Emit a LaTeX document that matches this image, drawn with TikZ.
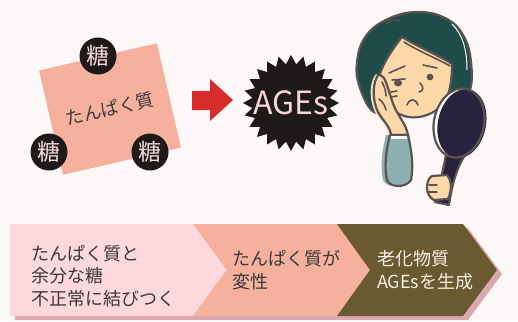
\documentclass[tikz,border=0pt]{standalone}
\usepackage{fontspec}
\setmainfont{Noto Sans CJK JP}
\definecolor{bgc}{HTML}{FCF8F8}
\definecolor{salmon}{HTML}{F5B19E}
\definecolor{sugarc}{HTML}{1E1A1A}
\definecolor{sugartext}{HTML}{F8D9D9}
\definecolor{redc}{HTML}{D82B2B}
\definecolor{agestext}{HTML}{F9D5D5}
\definecolor{pinkbox}{HTML}{FDD8DC}
\definecolor{olive}{HTML}{6A5A31}
\definecolor{shadowc}{HTML}{DAA8AE}
\definecolor{darktext}{HTML}{3A3A3A}
\definecolor{lighttext}{HTML}{F6F0E2}
\definecolor{hairc}{HTML}{1F4B49}
\definecolor{skin}{HTML}{FDD9AA}
\definecolor{skinlight}{HTML}{FCE2C4}
\definecolor{outl}{HTML}{5A5351}
\definecolor{sleevec}{HTML}{8EB0B1}
\definecolor{mirrorc}{HTML}{27233F}
\begin{document}
\begin{tikzpicture}[x=1pt,y=-1pt,
  sugar/.style={circle, fill=sugarc, minimum size=37pt, inner sep=0pt,
    text=sugartext, font=\fontsize{23}{23}\selectfont},
  boxtext/.style={anchor=west, align=left, inner sep=0pt,
    font=\fontsize{18}{22.5}\selectfont},
  ink/.style={draw=outl, line width=2.2pt, line join=round, line cap=round},
  fine/.style={draw=outl, line width=1.6pt, line cap=round}]
\useasboundingbox (0,0) rectangle (518,321);
\fill[bgc] (0,0) rectangle (518,321);

% protein sheet with three sugars
\node[fill=salmon, minimum width=121pt, minimum height=107pt, inner sep=0pt,
  rotate=13, text=darktext, font=\fontsize{18}{18}\selectfont] (protein)
  at (110,109) {\raisebox{0pt}{たんぱく質}};
\node[sugar] (s1) at (98,56) {糖};
\node[sugar] (s2) at (49,152) {糖};
\node[sugar] (s3) at (150,152) {糖};

% red arrow
\fill[redc] (192,91) -- (210,91) -- (210,79) -- (233,100) -- (210,121)
  -- (210,110) -- (192,110) -- cycle;

% AGEs burst
\begin{scope}[shift={(291,103)}]
  \fill[sugarc] (90:48) \foreach \i in {1,...,47}{
    -- ({90+\i*7.5}:{ifthenelse(mod(\i,2)==0,48,39)}) } -- cycle;
\end{scope}
\node[text=agestext, font=\fontsize{32}{32}\selectfont, inner sep=0pt] (ages)
  at (291,103) {AGEs};

% process strip
\fill[shadowc, shift={(5,4)}] (10,224) -- (463,224) -- (497,270) -- (463,316)
  -- (10,316) -- cycle;
\fill[pinkbox] (10,224) -- (193,224) -- (227,270) -- (193,316) -- (10,316) -- cycle;
\fill[salmon] (193,224) -- (337,224) -- (370,270) -- (337,316) -- (193,316)
  -- (227,270) -- cycle;
\fill[olive] (337,224) -- (463,224) -- (497,270) -- (463,316) -- (337,316)
  -- (370,270) -- cycle;
\node[boxtext, text=darktext] (step1) at (31,276)
  {たんぱく質と\\余分な糖\\不正常に結びつく};
\node[boxtext, text=darktext] (step2) at (232,270) {たんぱく質が\\変性};
\node[boxtext, text=lighttext] (step3) at (377,270) {老化物質\\AGEsを生成};

% worried woman: hair
\draw[ink, fill=hairc] plot[smooth cycle, tension=0.7] coordinates {
  (374,112) (360,88) (357,62) (366,36) (388,19) (417,12) (445,18) (463,35)
  (471,62) (469,92) (452,100) (420,100) (390,105)};
\draw[white, line width=1pt] (452,24) .. controls (462,34) and (467,48) .. (467,70);
\draw[fine] (386,24) .. controls (390,20) and (396,19) .. (400,21);
% face
\draw[ink, fill=skin] (402,37) .. controls (420,48) and (440,56) .. (452,64)
  .. controls (452,80) and (450,95) .. (443,104)
  .. controls (435,114) and (420,119) .. (408,117)
  .. controls (395,114) and (382,105) .. (378,90)
  .. controls (375,75) and (390,52) .. (402,37) -- cycle;
\draw[fine] (404,42) .. controls (420,52) and (438,59) .. (450,66);
% brows, eyes, nose, mouth, cheek marks
\draw[fine] (389,73) -- (405,66);
\draw[fine] (423,65) -- (437,68);
\fill[outl] (398,83) ellipse [x radius=4pt, y radius=3.4pt];
\draw[fine] (392,80) -- (405,79);
\fill[outl] (430,77) ellipse [x radius=3.4pt, y radius=3.4pt];
\draw[fine] (420,83) .. controls (424,87) and (424,91) .. (419,92);
\draw[fine] (407,105) .. controls (410,98) and (415,98) .. (418,105);
\draw[fine] (391,92) -- (397,91);
\draw[fine] (391,97) -- (397,96);

% hand on cheek and sleeve
\fill[skinlight, shift={(-3,0)}] (379,74) .. controls (372,82) and (372,100) .. (378,112)
  .. controls (383,121) and (390,126) .. (391,135) -- (408,135)
  .. controls (406,124) and (398,116) .. (394,106)
  .. controls (390,96) and (388,86) .. (384,78) -- cycle;
\draw[ink, fill=skin] (379,74) .. controls (372,82) and (372,100) .. (378,112)
  .. controls (383,121) and (390,126) .. (391,135) -- (408,135)
  .. controls (406,124) and (398,116) .. (394,106)
  .. controls (390,96) and (388,86) .. (384,78) -- cycle;
\draw[fine] (382,82) .. controls (385,88) and (386,92) .. (386,96);
\draw[fine] (379,99) .. controls (383,102) and (385,106) .. (386,110);
\fill[sleevec, shift={(-4,0)}] (390,135) .. controls (386,150) and (384,168) .. (387,180)
  .. controls (390,188) and (406,188) .. (411,180)
  .. controls (414,165) and (411,148) .. (408,135) -- cycle;
\draw[ink, fill=sleevec] (390,135) .. controls (386,150) and (384,168) .. (387,180)
  .. controls (390,188) and (406,188) .. (411,180)
  .. controls (414,165) and (411,148) .. (408,135) -- cycle;
\fill[white] (391,136) rectangle (407,139);

% hand mirror
\draw[ink, fill=mirrorc] (447,150) .. controls (444,165) and (440,185) .. (435,202)
  -- (449,205) .. controls (452,185) and (456,168) .. (467,152) -- cycle;
\begin{scope}[rotate around={-12:(459,123)}]
  \fill[white] (459,123) ellipse [x radius=25pt, y radius=35pt];
  \fill[mirrorc] (462,123) ellipse [x radius=24pt, y radius=35pt];
  \draw[ink] (459,123) ellipse [x radius=25pt, y radius=35pt];
\end{scope}
\draw[ink, fill=skin] (432,176) .. controls (425,180) and (425,196) .. (434,200)
  -- (448,199) .. controls (452,190) and (452,181) .. (447,175) -- cycle;
\draw[fine] (429,185) -- (437,185);
\draw[fine] (429,192) -- (437,192);
\end{tikzpicture}
\end{document}
